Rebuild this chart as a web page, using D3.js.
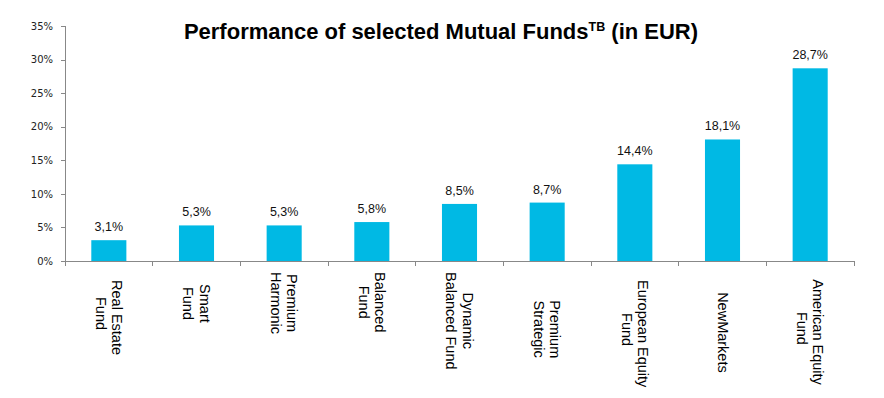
<!DOCTYPE html>
<html>
  <head>
    <meta charset="utf-8">
    <style>
      body { margin: 0; background: #fff; }
      text { font-family: Arial, "Liberation Sans", sans-serif; }
      .axis path, .axis line { stroke: #888; stroke-width: 1px; shape-rendering: crispEdges; }
      .ylab { font-family: "DejaVu Sans", sans-serif; font-size: 10px; fill: #222; }
      .cat { font-size: 14.5px; fill: #000; white-space: pre; }
      .val { font-size: 12.5px; fill: #111; }
    </style>
  </head>
  <body>
    <script src="https://cdnjs.cloudflare.com/ajax/libs/d3/7.8.5/d3.min.js"></script>
    <script>
      // fund names, one entry per line of the rotated label
      var funds = [
        ["  Real Estate", "Fund"],
        ["   Smart", "   Fund"],
        ["Premium", "Harmonic"],
        ["Balanced", "Fund"],
        ["Dynamic", "Balanced Fund"],
        ["       Premium", "       Strategic"],
        ["  European Equity", "Fund"],
        ["     NewMarkets"],
        ["  American Equity", "Fund"]
      ];
      var performance = [0.031, 0.053, 0.053, 0.058, 0.085, 0.087, 0.144, 0.181, 0.287];
      var yTicks = [0, 0.05, 0.10, 0.15, 0.20, 0.25, 0.30, 0.35];

      var width = 884, height = 398;
      var plotLeft = 65, plotRight = 854, plotTop = 26, plotBottom = 261;

      var euro = d3.formatLocale({ decimal: ",", thousands: ".", grouping: [3], currency: ["", " €"] });
      var fmtVal = euro.format(".1%");
      var fmtTick = euro.format(".0%");

      var svg = d3.select("body").append("svg")
        .attr("width", width)
        .attr("height", height);

      var ids = d3.range(funds.length);
      var x = d3.scaleBand().domain(ids).range([plotLeft, plotRight]).padding(0);
      var y = d3.scaleLinear().domain([0, 0.35]).range([plotBottom, plotTop]);

      // title
      var title = svg.append("text")
        .attr("x", 441)
        .attr("y", 39)
        .attr("text-anchor", "middle")
        .style("font-weight", "bold")
        .style("font-size", "22px");
      title.append("tspan").text("Performance of selected Mutual Funds");
      title.append("tspan").attr("dy", -8).style("font-size", "12.5px").text("TB");
      title.append("tspan").attr("dy", 8).text(" (in EUR)");

      // y axis
      var yAxis = svg.append("g")
        .attr("class", "axis")
        .attr("transform", "translate(" + plotLeft + ",0)")
        .call(d3.axisLeft(y).tickValues(yTicks).tickFormat(fmtTick).tickSize(4).tickPadding(8));
      yAxis.select(".domain").attr("d", "M0," + plotTop + "V" + plotBottom);
      yAxis.selectAll("text").attr("class", "ylab");

      // bars
      var barW = x.bandwidth() * 0.4;
      svg.append("g")
        .selectAll("rect")
        .data(ids)
        .enter()
        .append("rect")
          .attr("x", function (i) { return x(i) + (x.bandwidth() - barW) / 2; })
          .attr("y", function (i) { return y(performance[i]); })
          .attr("width", barW)
          .attr("height", function (i) { return y(0) - y(performance[i]); })
          .style("fill", "#00b9e4");

      svg.append("g")
        .selectAll("text")
        .data(ids)
        .enter()
        .append("text")
          .attr("class", "val")
          .attr("text-anchor", "middle")
          .attr("x", function (i) { return x(i) + x.bandwidth() / 2; })
          .attr("y", function (i) { return y(performance[i]) - 9; })
          .text(function (i) { return fmtVal(performance[i]); });

      // x axis with ticks on category boundaries
      var bounds = ids.map(function (i) { return x(i); }).concat([plotRight]);
      var xAxis = svg.append("g").attr("class", "axis");
      xAxis.append("path").attr("d", "M" + plotLeft + "," + plotBottom + "H" + plotRight);
      xAxis.selectAll("line")
        .data(bounds)
        .enter()
        .append("line")
          .attr("x1", function (d) { return d; })
          .attr("x2", function (d) { return d; })
          .attr("y1", plotBottom)
          .attr("y2", plotBottom + 5);

      // rotated category labels
      var lineH = 16.5;
      var labelTop = plotBottom + 11;
      var cats = svg.append("g")
        .selectAll("g")
        .data(ids)
        .enter()
        .append("g")
          .attr("transform", function (i) {
            return "translate(" + (x(i) + x.bandwidth() / 2) + "," + labelTop + ") rotate(90)";
          });

      cats.each(function (i) {
        var g = d3.select(this);
        var lines = funds[i];
        var n = lines.length;
        var texts = lines.map(function (s, k) {
          return g.append("text")
            .attr("class", "cat")
            .attr("y", (k - (n - 1) / 2) * lineH + 5)
            .text(s);
        });
        var widths = texts.map(function (t) { return t.node().getComputedTextLength(); });
        var maxW = d3.max(widths);
        texts.forEach(function (t, k) { t.attr("x", (maxW - widths[k]) / 2); });
      });
    </script>
  </body>
</html>
